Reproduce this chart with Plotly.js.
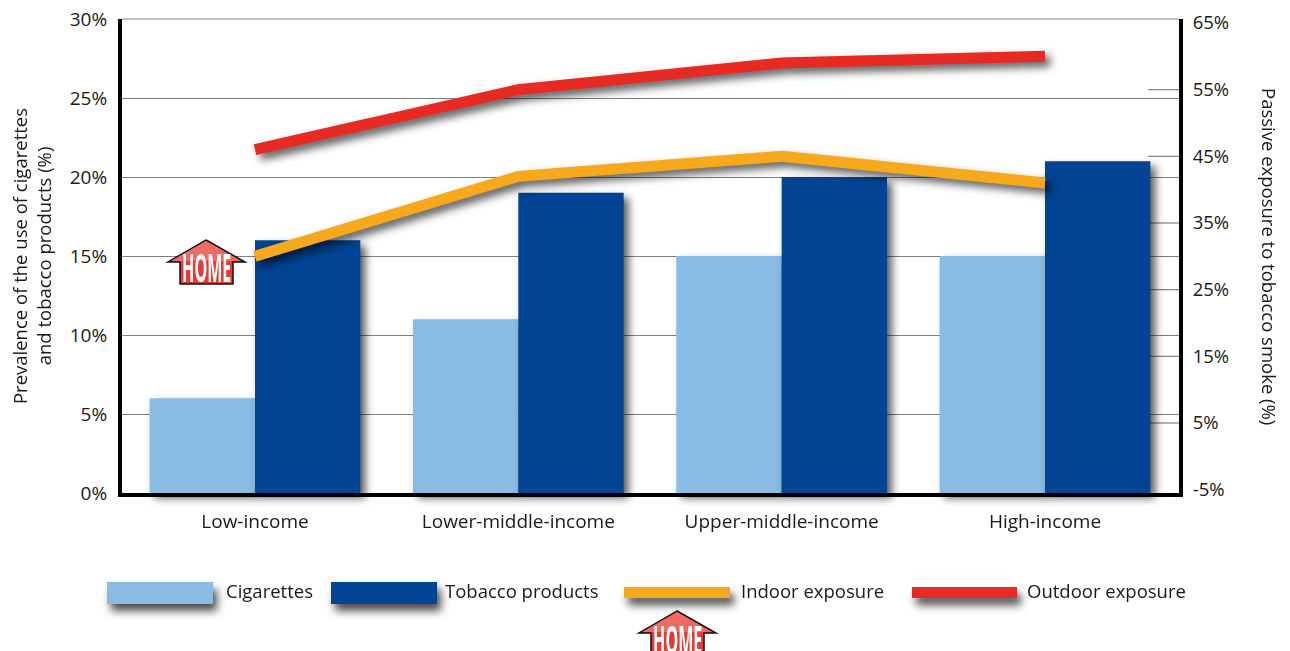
<!DOCTYPE html>
<html><head><meta charset="utf-8">
<script src="https://cdn.plot.ly/plotly-3.0.1.min.js"></script>
<style>html,body{margin:0;padding:0;background:#fff;overflow:hidden}</style>
</head><body><div id="chart" style="width:1290px;height:651px"></div>
<script>
const categories = ["Low-income","Lower-middle-income","Upper-middle-income","High-income"];
const cigarettes = [6,11,15,15];
const tobaccoProducts = [16,19,20,21];
const indoorExposure = [30,42,45,41];
const outdoorExposure = [46,55,59,60];
const leftTicks = [0,5,10,15,20,25,30];
const rightTicks = [-5,5,15,25,35,45,55,65];
const rightInnerTicks = [5,15,25,35,45,55];
const FONT = '"Open Sans", sans-serif';
const FS = 18.5;
const W=1290,H=651,L=122,R=1179,T=19,B=493;
const px = x => (x-L)/(R-L), py = y => (B-y)/(B-T);
const C = {cig:'#89BBE3',tob:'#004493',ind:'#F7A81B',out:'#E72B24',text:'#1a1a1a',grid:'#808080'};
const catStep = (1045-255)/3;

const housePath = 'M0,0 L39,-22 L27,-22 L27,-44 L-26,-44 L-26,-22 L-38,-22 Z';
const houseTop = 'M0,-1 L35,-21 L-35,-21 Z';
function house(x,y){
  const base={type:'path',xref:'paper',yref:'paper',xsizemode:'pixel',ysizemode:'pixel',xanchor:px(x),yanchor:py(y)};
  return [
    Object.assign({},base,{path:housePath,fillcolor:'#E53B35',line:{color:'#111',width:1.5}}),
    Object.assign({},base,{path:houseTop,fillcolor:'#EE6A62',line:{width:0}})
  ];
}
const legendRect=(x0,x1,y0,y1,c)=>({type:'rect',xref:'paper',yref:'paper',x0:px(x0),x1:px(x1),y0:py(y1),y1:py(y0),fillcolor:c,line:{width:0}});
const shapes=[
  ...rightInnerTicks.map(v=>({type:'line',layer:'below',xref:'paper',yref:'y2',x0:px(1148),x1:1,y0:v,y1:v,line:{color:'#808080',width:1.2}})),
  {type:'line',layer:'below',xref:'paper',yref:'paper',x0:0,x1:1,y0:1,y1:1,line:{color:C.grid,width:1}},
  legendRect(107,213,582,604,C.cig),
  legendRect(331,437,582,604,C.tob),
  legendRect(624,730,587,598,C.ind),
  legendRect(912,1017,587,598,C.out),
  ...house(206,240),...house(677,611)
];
const label=(x,y,text)=>({xref:'paper',yref:'paper',x:px(x),y:py(y),text,showarrow:false,xanchor:'left',yanchor:'middle',xshift:-2,font:{family:FONT,size:FS,color:C.text}});
const homeText=(x,y)=>({xref:'paper',yref:'paper',x:px(x),y:py(y),text:'<b>HOME</b>',showarrow:false,xanchor:'center',yanchor:'middle',font:{family:FONT,size:22,color:'#fff'}});
const annotations=[
  label(226,590,'Cigarettes'),label(445,590,'Tobacco products'),label(741,590,'Indoor exposure'),label(1027,590,'Outdoor exposure'),
  homeText(206,266),homeText(677,638),
  {xref:'paper',yref:'paper',x:px(1270),y:py(256),text:'Passive exposure to tobacco smoke (%)',textangle:90,showarrow:false,xanchor:'center',yanchor:'middle',font:{family:FONT,size:FS,color:C.text}}
];
const traces=[
  {type:'bar',name:'Cigarettes',x:categories,y:cigarettes,marker:{color:C.cig,line:{width:0}},cliponaxis:false},
  {type:'bar',name:'Tobacco products',x:categories,y:tobaccoProducts,marker:{color:C.tob,line:{width:0}},cliponaxis:false},
  {type:'scatter',mode:'lines',name:'Indoor exposure',x:categories,y:indoorExposure,yaxis:'y2',line:{color:C.ind,width:11}},
  {type:'scatter',mode:'lines',name:'Outdoor exposure',x:categories,y:outdoorExposure,yaxis:'y2',line:{color:C.out,width:11}}
];
const layout={
  width:W,height:H,showlegend:false,barmode:'group',bargap:0.2,bargroupgap:0,
  margin:{l:L,r:W-R,t:T,b:H-B,pad:0},paper_bgcolor:'#fff',plot_bgcolor:'#fff',
  font:{family:FONT,size:FS,color:C.text},
  xaxis:{type:'category',range:[(L-255)/catStep,(R-255)/catStep],showgrid:false,showline:true,linecolor:'#000',linewidth:4,ticks:'',ticklabelstandoff:8,tickfont:{size:19,color:C.text},zeroline:false},
  yaxis:{range:[0,30],tickvals:leftTicks,ticktext:leftTicks.map(v=>v+'%'),showgrid:true,gridcolor:C.grid,gridwidth:1,showline:true,linecolor:'#000',linewidth:4,zeroline:false,ticks:'',ticklabelstandoff:7,tickfont:{size:19,color:C.text},
    title:{text:'Prevalence of the use of cigarettes<br>and tobacco products (%)',font:{size:FS,color:C.text},standoff:14}},
  yaxis2:{overlaying:'y',side:'right',range:[-5.5,65.6],tickvals:rightTicks,ticktext:rightTicks.map(v=>v+'%'),showgrid:false,showline:true,linecolor:'#000',linewidth:4,zeroline:false,ticks:'',ticklabelstandoff:6,tickfont:{size:FS,color:C.text}},
  shapes,annotations
};
Plotly.newPlot('chart',traces,layout,{displayModeBar:false,staticPlot:true}).then(gd=>{
  const big='drop-shadow(5px 5px 4px rgba(0,0,0,.65))';
  gd.querySelectorAll('.barlayer .trace').forEach(e=>e.style.filter=big);
  gd.querySelectorAll('.scatterlayer .js-line').forEach(e=>e.style.filter=big);
  gd.querySelectorAll('.shapelayer path').forEach(e=>{
    const f=e.style.fill||'';
    if(/137, 187|0, 68|247, 168|231, 43/.test(f)) e.style.filter='drop-shadow(4px 7px 4px rgba(0,0,0,.7))';
  });
  gd.querySelectorAll('.annotation').forEach(a=>{
    const t=a.querySelector('.annotation-text');
    if(t && t.textContent==='HOME'){
      const b=t.getBBox(), cx=b.x+b.width/2, cy=b.y+b.height/2;
      t.setAttribute('transform',`translate(${cx},${cy}) scale(0.73,1.75) translate(${-cx},${-cy})`);
    }
  });
});
</script></body></html>
